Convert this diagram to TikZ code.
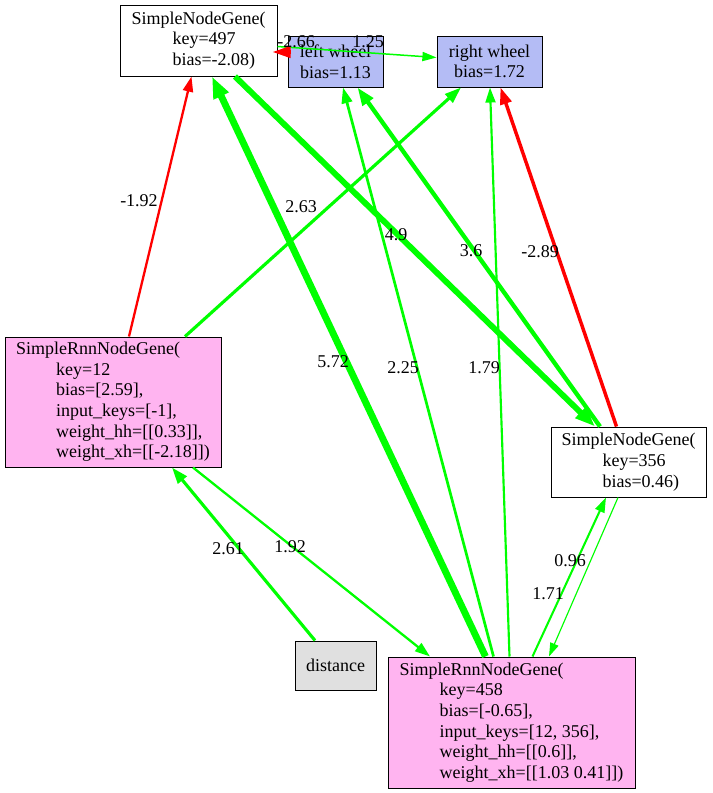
\documentclass[tikz,border=0pt]{standalone}
\usepackage{fontspec}
\setmainfont{Liberation Serif}
\usetikzlibrary{arrows.meta,calc}
\definecolor{gvgreen}{RGB}{0,255,0}
\definecolor{gvred}{RGB}{255,0,0}
\definecolor{rnnpink}{RGB}{255,180,240}
\definecolor{outblue}{RGB}{180,188,245}
\definecolor{ingray}{RGB}{224,224,224}
\begin{document}
\begin{tikzpicture}[x=0.75pt,y=-0.75pt,
  every node/.style={font=\fontsize{13.5pt}{15.5pt}\selectfont},
  box/.style={draw=black, line width=0.75pt, inner sep=0pt, align=left},
  hid/.style={fill=white},
  rnn/.style={fill=rnnpink},
  outn/.style={fill=outblue, align=center},
  inn/.style={fill=ingray, align=center},
  wg/.style={draw=gvgreen, line width=#1*0.9pt, -{Triangle[length=9pt 1.4, width=5.5pt 1.2]}},
  wr/.style={draw=gvred, line width=#1*0.9pt, -{Triangle[length=9pt 1.4, width=5.5pt 1.2]}},
  bigtip/.style={-{Triangle[length=13.5pt, width=8.5pt]}},
  lbl/.style={inner sep=0pt}
]
\useasboundingbox (0,0) rectangle (713,793);

% nodes
\node[box,hid,minimum width=117.75pt,minimum height=53.25pt] (n497) at (198.5,40.5)
  {SimpleNodeGene(\\\hspace*{30.75pt}key=497\\\hspace*{30.75pt}bias=-2.08)};
\node[box,outn,minimum width=71.25pt,minimum height=38.25pt] (lw) at (335.5,61.5)
  {left wheel\\bias=1.13};
\node[box,outn,minimum width=78.75pt,minimum height=38.25pt] (rw) at (489.5,61.5)
  {right wheel\\bias=1.72};
\node[box,rnn,minimum width=162pt,minimum height=97.5pt] (n12) at (113,402)
  {SimpleRnnNodeGene(\\\hspace*{30pt}key=12\\\hspace*{30pt}bias=[2.59],\\\hspace*{30pt}input\_keys=[-1],\\\hspace*{30pt}weight\_hh=[[0.33]],\\\hspace*{30pt}weight\_xh=[[-2.18]])};
\node[box,hid,minimum width=116.25pt,minimum height=52.5pt] (n356) at (628.5,462)
  {SimpleNodeGene(\\\hspace*{30.75pt}key=356\\\hspace*{30.75pt}bias=0.46)};
\node[box,inn,minimum width=60.75pt,minimum height=36.75pt] (dist) at (335.5,665.5)
  {distance};
\node[box,rnn,minimum width=185.25pt,minimum height=98.25pt] (n458) at (511.5,722.5)
  {SimpleRnnNodeGene(\\\hspace*{30pt}key=458\\\hspace*{30pt}bias=[-0.65],\\\hspace*{30pt}input\_keys=[12, 356],\\\hspace*{30pt}weight\_hh=[[0.6]],\\\hspace*{30pt}weight\_xh=[[1.03 0.41]])};

% edges
\draw[wr=1.92] ($(n12.north)+(16,0)$) -- ($(n497.south)+(-7,0)$);
\draw[wg=2.63] ($(n12.north)+(72,0)$) -- ($(rw.south)+(-28.5,0)$);
\draw[wg=1.25] ($(n497.east)+(0,6)$) -- ($(rw.west)+(0,-4)$);
\draw[wr=2.66,bigtip] ($(lw.west)+(2,-9.5)$) -- ($(n497.east)+(-5,11.5)$);
\draw[wg=5.72] ($(n458.north)+(-26,0)$) -- ($(n497.south)+(13.5,0)$);
\draw[wg=4.9] ($(n497.south)+(36.5,0)$) -- ($(n356.north)+(-33.5,0)$);
\draw[wg=3.6] ($(n356.north)+(-28.5,0)$) -- ($(lw.south)+(22,0)$);
\draw[wr=2.89] ($(n356.north)+(-12,0)$) -- ($(rw.south)+(11,0)$);
\draw[wg=2.25] ($(n458.north)+(-18,0)$) -- ($(lw.south)+(7.5,0)$);
\draw[wg=1.79] ($(n458.north)+(-2,0)$) -- ($(rw.south)+(0.5,0)$);
\draw[wg=2.61] ($(dist.north)+(-20.5,0)$) -- ($(n12.south)+(59,0)$);
\draw[wg=1.92] ($(n12.south)+(80,0)$) -- ($(n458.north)+(-81.5,0)$);
\draw[wg=1.71] ($(n458.north)+(21,0)$) -- ($(n356.south)+(-22.5,0)$);
\draw[wg=0.96] ($(n356.south)+(-10.5,0)$) -- ($(n458.north)+(37.5,0)$);

% labels
\node[lbl] (l1) at (139,201) {-1.92};
\node[lbl] (l2) at (301,207) {2.63};
\node[lbl] (l3) at (368,42) {1.25};
\node[lbl] (l4) at (296,42) {-2.66};
\node[lbl] (l5) at (333,362) {5.72};
\node[lbl] (l6) at (396,235) {4.9};
\node[lbl] (l7) at (471,251) {3.6};
\node[lbl] (l8) at (540,252) {-2.89};
\node[lbl] (l9) at (403,368) {2.25};
\node[lbl] (l10) at (484,368) {1.79};
\node[lbl] (l11) at (228,549) {2.61};
\node[lbl] (l12) at (290,547) {1.92};
\node[lbl] (l13) at (548,594) {1.71};
\node[lbl] (l14) at (570,561) {0.96};
\end{tikzpicture}
\end{document}
